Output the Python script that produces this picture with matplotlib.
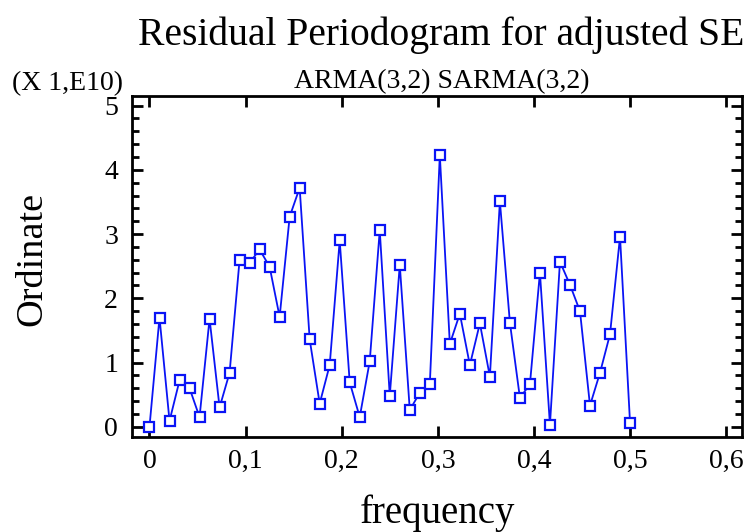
import matplotlib
matplotlib.use("Agg")
import matplotlib.pyplot as plt
import numpy as np
from matplotlib.ticker import MultipleLocator

freq = [i / 96 for i in range(49)]
ordinate = [0.00, 1.70, 0.09, 0.72, 0.60, 0.15, 1.68, 0.30, 0.84, 2.60,
            2.55, 2.76, 2.49, 1.71, 3.27, 3.72, 1.36, 0.36, 0.96, 2.90,
            0.69, 0.15, 1.02, 3.06, 0.48, 2.52, 0.26, 0.53, 0.66, 4.23,
            1.29, 1.76, 0.96, 1.61, 0.78, 3.51, 1.62, 0.45, 0.66, 2.40,
            0.03, 2.57, 2.21, 1.80, 0.33, 0.84, 1.44, 2.96, 0.06]
xticks = [0, 0.1, 0.2, 0.3, 0.4, 0.5, 0.6]
xticklabels = ["0", "0,1", "0,2", "0,3", "0,4", "0,5", "0,6"]
yticks = [0, 1, 2, 3, 4, 5]

plt.rcParams['font.family'] = ['Liberation Serif', 'DejaVu Serif']

W, H = 752, 532
fig = plt.figure(figsize=(W / 100, H / 100), dpi=100)
ax = fig.add_axes([132/W, 95/H, 610/W, 341/H])
ax.plot(freq, ordinate, color='#0a14f5', lw=1.3, marker='s', markersize=7,
        markerfacecolor='white', markeredgecolor='#0a14f5', markeredgewidth=1.6)
ax.set_xlim(-0.0182, 0.6165)
ax.set_ylim(-0.16, 5.15)
ax.set_xticks(xticks)
ax.set_xticklabels(xticklabels)
ax.set_yticks(yticks)
ax.yaxis.set_minor_locator(MultipleLocator(0.2))
ax.tick_params(axis='both', which='major', direction='in', length=8, width=2,
               labelsize=20, top=True, right=True)
ax.tick_params(axis='y', which='minor', direction='in', length=5, width=2,
               left=True, right=True)
ax.tick_params(axis='x', which='major', pad=8.5)
ax.tick_params(axis='y', which='major', pad=10)
for s in ax.spines.values():
    s.set_linewidth(2)

ax.set_xlabel("frequency", fontsize=28, va='baseline', ha='center')
ax.xaxis.set_label_coords((437 - 132) / 610, (532 - 523 - 95) / 341)
ax.set_ylabel("Ordinate", fontsize=27.5, va='center', ha='center')
ax.yaxis.set_label_coords((32 - 132) / 610, (532 - 259 - 95) / 341)

fig.text(441.5 / W, 1 - 45 / H, "Residual Periodogram for adjusted SE",
         fontsize=28.5, ha='center', va='baseline')
fig.text(442 / W, 1 - 88 / H, "ARMA(3,2) SARMA(3,2)", fontsize=20,
         ha='center', va='baseline')
fig.text(12 / W, 1 - 90 / H, "(X 1,E10)", fontsize=20, ha='left', va='baseline')
fig.savefig("out.png", dpi=100)
